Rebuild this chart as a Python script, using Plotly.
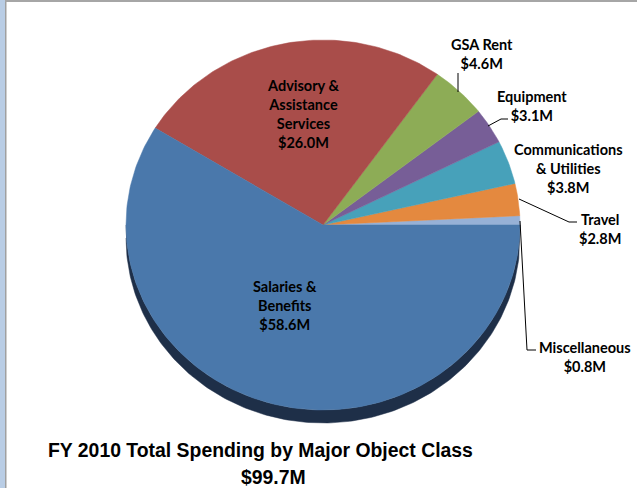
import numpy as np
import plotly.graph_objects as go

# --- data -----------------------------------------------------------------
categories = [
    "Miscellaneous",
    "Travel",
    "Communications<br>& Utilities",
    "Equipment",
    "GSA Rent",
    "Advisory &<br>Assistance<br>Services",
    "Salaries &<br>Benefits",
]
values = [0.8, 2.8, 3.8, 3.1, 4.6, 26.0, 58.6]  # $M
title_line1 = "FY 2010 Total Spending by Major Object Class"
title_line2 = "$99.7M"

# --- styling ----------------------------------------------------------------
colors = ["#97B1D6", "#E4893F", "#47A1BA", "#775E97", "#8DAC56", "#A94D4A", "#4A78AB"]
side_color = "#1E2F48"

W, H = 637, 488
CX, CY = 323, 225        # pie centre (px)
RX, RY = 197, 185        # pie radii (px) - tilted disc
DEPTH = 13               # thickness of the disc (px)

# label anchor points (px) and leader lines (px polylines)
label_pos = [(585, 357), (600, 229), (568, 168), (532, 106), (482, 54), (303, 114), (285, 305)]
leaders = [
    [(520, 221), (527, 350), (536, 350)],
    [(519, 199), (569, 222), (577, 222)],
    None,
    [(488, 126), (501, 119), (508, 119)],
    [(458, 92), (458, 73)],
    None,
    None,
]
FONT = "Lato, Carlito, Calibri, sans-serif"
TITLE_FONT = "Liberation Sans Narrow, Arial Narrow, Liberation Sans, Arial"


def to_data(px, py):
    return (px - CX) / RX, (CY - py) / RY


fig = go.Figure()

# disc side (front half of the tilted pie)
th = np.linspace(np.pi, 2 * np.pi, 200)
xs = np.concatenate([np.cos(th), np.cos(th[::-1])])
ys = np.concatenate([np.sin(th), np.sin(th[::-1]) - DEPTH / RY])
fig.add_trace(go.Scatter(x=xs, y=ys, fill="toself", mode="lines",
                         line=dict(color=side_color, width=0.5),
                         fillcolor=side_color, hoverinfo="skip", showlegend=False))

# slices, counter-clockwise from 3 o'clock
fracs = np.array(values) / np.sum(values)
ends = np.cumsum(fracs) * 2 * np.pi
starts = ends - fracs * 2 * np.pi
for s, e, c in zip(starts, ends, colors):
    n = max(int((e - s) / (2 * np.pi) * 400), 4)
    t = np.linspace(s, e, n)
    x = np.concatenate([[0], np.cos(t), [0]])
    y = np.concatenate([[0], np.sin(t), [0]])
    fig.add_trace(go.Scatter(x=x, y=y, fill="toself", mode="lines",
                             line=dict(color=c, width=0.5), fillcolor=c,
                             hoverinfo="skip", showlegend=False))

# leader lines
for ln in leaders:
    if ln is None:
        continue
    pts = [to_data(*p) for p in ln]
    fig.add_trace(go.Scatter(x=[p[0] for p in pts], y=[p[1] for p in pts], mode="lines",
                             line=dict(color="black", width=1),
                             hoverinfo="skip", showlegend=False))

annotations = []
for name, v, (px, py) in zip(categories, values, label_pos):
    lx, ly = to_data(px, py)
    annotations.append(dict(
        x=lx, y=ly, xref="x", yref="y", showarrow=False,
        text=f"<b>{name}<br>${v:.1f}M</b>", align="center",
        font=dict(family=FONT, size=14.5, color="black"),
        xanchor="center", yanchor="middle"))

tx, ty = to_data(260, 450)
annotations.append(dict(x=tx, y=ty, xref="x", yref="y", showarrow=False,
                        text=f"<b>{title_line1}</b>",
                        font=dict(family=TITLE_FONT, size=19.4, color="black"),
                        xanchor="center", yanchor="middle"))
tx, ty = to_data(273, 477)
annotations.append(dict(x=tx, y=ty, xref="x", yref="y", showarrow=False,
                        text=f"<b>{title_line2}</b>",
                        font=dict(family=TITLE_FONT, size=19.4, color="black"),
                        xanchor="center", yanchor="middle"))

shapes = [
    dict(type="rect", xref="paper", yref="paper", x0=0, x1=5 / W, y0=0, y1=1,
         fillcolor="#B9CDE5", line=dict(width=0), layer="above"),
    dict(type="rect", xref="paper", yref="paper", x0=5 / W, x1=6.5 / W, y0=0, y1=1 - 1 / H,
         fillcolor="#A0A0A0", line=dict(width=0), layer="above"),
    dict(type="rect", xref="paper", yref="paper", x0=5 / W, x1=1, y0=1 - 2 / H, y1=1,
         fillcolor="#A6A6A6", line=dict(width=0), layer="above"),
]

fig.update_layout(
    width=W, height=H, margin=dict(l=0, r=0, t=0, b=0),
    paper_bgcolor="white", plot_bgcolor="white",
    xaxis=dict(range=[(0 - CX) / RX, (W - CX) / RX], visible=False, fixedrange=True),
    yaxis=dict(range=[(CY - H) / RY, CY / RY], visible=False, fixedrange=True),
    annotations=annotations, shapes=shapes, showlegend=False,
)

fig.write_html("out.html")
